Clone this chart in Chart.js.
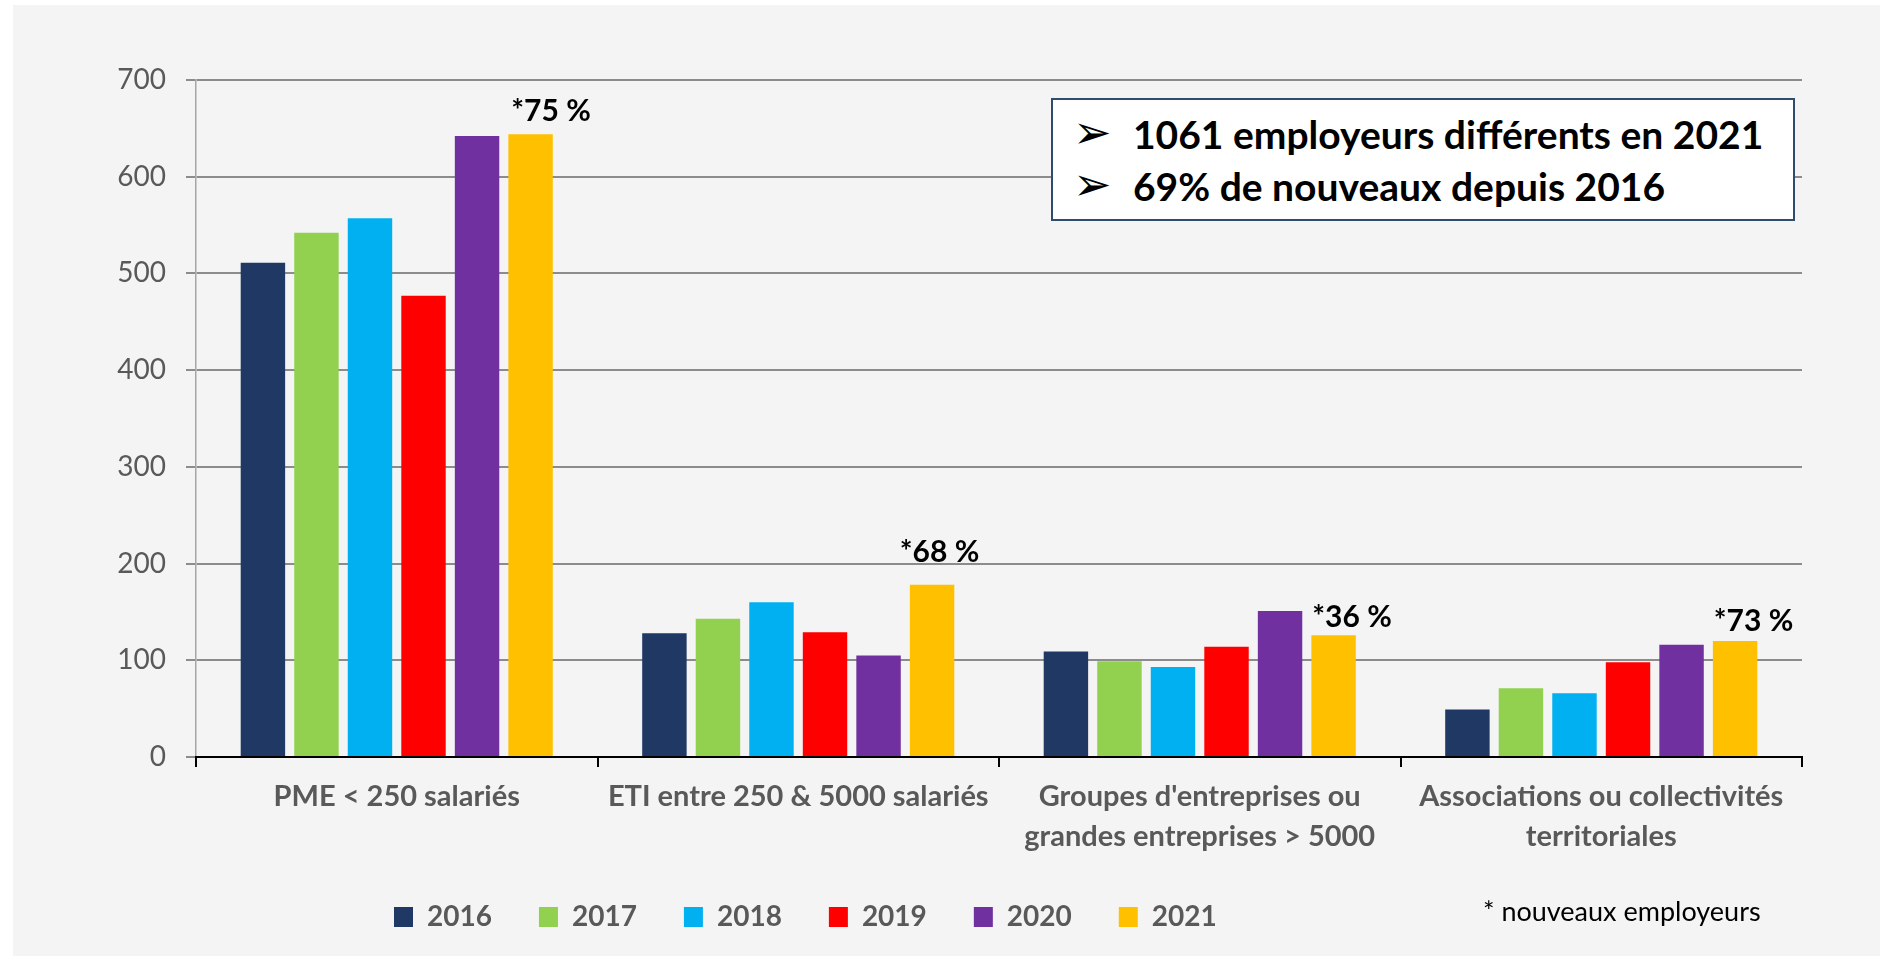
<!DOCTYPE html>
<html lang="fr">
<head>
<meta charset="UTF-8">
<title>Employeurs par catégorie 2016-2021</title>
<script src="https://cdn.jsdelivr.net/npm/chart.js"></script>
<style>
    body {
        margin: 0;
        background: #fff;
        font-family: Lato, sans-serif;
    }
    #wrap {
        position: absolute;
        left: 13px;
        top: 5px;
        width: 1867px;
        height: 951px;
        background: #f4f4f4;
    }
    #note {
        position: absolute;
        left: 1051px;
        top: 98px;
        width: 740px;
        height: 119px;
        border: 2px solid #2f4b6e;
        background: #fff;
    }
    #note span {
        position: absolute;
        line-height: 50px;
        color: #000;
        white-space: nowrap;
    }
    #note .arrow {
        left: 20px;
        font-family: "DejaVu Sans", sans-serif;
        font-size: 46px;
    }
    #note .txt {
        left: 80px;
        font-weight: bold;
        font-size: 39px;
    }
    #foot {
        position: absolute;
        left: 1483px;
        top: 893px;
        line-height: 36px;
        font-size: 27px;
        color: #000;
        white-space: nowrap;
    }
</style>
</head>
<body>
<div id="wrap"><canvas id="chart"></canvas></div>
<div id="note">
    <span class="arrow" style="top:7px">➢</span>
    <span class="txt" style="top:9px">1061 employeurs différents en 2021</span>
    <span class="arrow" style="top:59px">➢</span>
    <span class="txt" style="top:61px">69% de nouveaux depuis 2016</span>
</div>
<div id="foot">* nouveaux employeurs</div>
<script>
    const categories = [
        'PME < 250 salariés',
        'ETI entre 250 & 5000 salariés',
        ["Groupes d'entreprises ou", 'grandes entreprises > 5000'],
        ['Associations ou collectivités', 'territoriales']
    ];
    const years = ['2016', '2017', '2018', '2019', '2020', '2021'];
    const v2016 = [511, 128, 109, 49];
    const v2017 = [542, 143, 99, 71];
    const v2018 = [557, 160, 93, 66];
    const v2019 = [477, 129, 114, 98];
    const v2020 = [642, 105, 151, 116];
    const v2021 = [644, 178, 126, 120];
    const newShare = ['*75 %', '*68 %', '*36 %', '*73 %'];

    const colors = ['#203864', '#92d050', '#00b0f0', '#ff0000', '#7030a0', '#ffc000'];
    const series = [v2016, v2017, v2018, v2019, v2020, v2021];

    Chart.defaults.font.family = 'Lato, sans-serif';

    // percentages of new employers, written above the 2021 bars
    const shareLabels = {
        id: 'shareLabels',
        afterDatasetsDraw(chart) {
            const meta = chart.getDatasetMeta(5);
            const ctx = chart.ctx;
            const dx = [3, -10, 1, 1];
            const dy = [-23, -33, -18, -20];
            ctx.save();
            ctx.font = 'bold 30px Lato, sans-serif';
            ctx.fillStyle = '#000';
            ctx.textAlign = 'left';
            ctx.textBaseline = 'middle';
            meta.data.forEach((bar, i) => {
                ctx.fillText(newShare[i], bar.x - bar.width / 2 + dx[i], bar.y + dy[i]);
            });
            ctx.restore();
        }
    };

    // legend sits left of centre in the original
    const legendShift = {
        id: 'legendShift',
        beforeDraw(chart) {
            const lg = chart.legend;
            const w = lg.right - lg.left;
            lg.left = 381 - lg.options.labels.padding;
            lg.right = lg.left + w;
        }
    };

    new Chart(document.getElementById('chart'), {
        type: 'bar',
        data: {
            labels: categories,
            datasets: years.map((y, i) => ({
                label: y,
                data: series[i],
                backgroundColor: colors[i],
                categoryPercentage: 0.8,
                barPercentage: 0.83
            }))
        },
        options: {
            responsive: true,
            maintainAspectRatio: false,
            animation: false,
            layout: { padding: { top: 75, right: 78, bottom: 15, left: 0 } },
            plugins: {
                tooltip: { enabled: false },
                legend: {
                    position: 'bottom',
                    align: 'start',
                    labels: {
                        boxWidth: 19,
                        boxHeight: 20,
                        padding: 47,
                        color: '#595959',
                        font: { size: 28, weight: 'bold' }
                    }
                }
            },
            scales: {
                x: {
                    grid: {
                        offset: true,
                        drawOnChartArea: false,
                        drawTicks: true,
                        tickLength: 10,
                        color: '#000',
                        lineWidth: 2
                    },
                    border: { color: '#000', width: 2, z: 1 },
                    ticks: {
                        color: '#595959',
                        font: { size: 29, weight: 'bold', lineHeight: 40 / 29 },
                        padding: 10,
                        maxRotation: 0,
                        autoSkip: false
                    },
                    afterFit: s => { s.height = 99; }
                },
                y: {
                    min: 0,
                    max: 700,
                    ticks: {
                        stepSize: 100,
                        color: '#595959',
                        font: { size: 28 },
                        padding: 20
                    },
                    grid: { color: '#8c8c8c', lineWidth: 2, tickLength: 10 },
                    border: { color: '#a6a6a6', width: 1.5 },
                    afterFit: s => { s.width = 183; }
                }
            }
        },
        plugins: [shareLabels, legendShift]
    });
</script>
</body>
</html>
